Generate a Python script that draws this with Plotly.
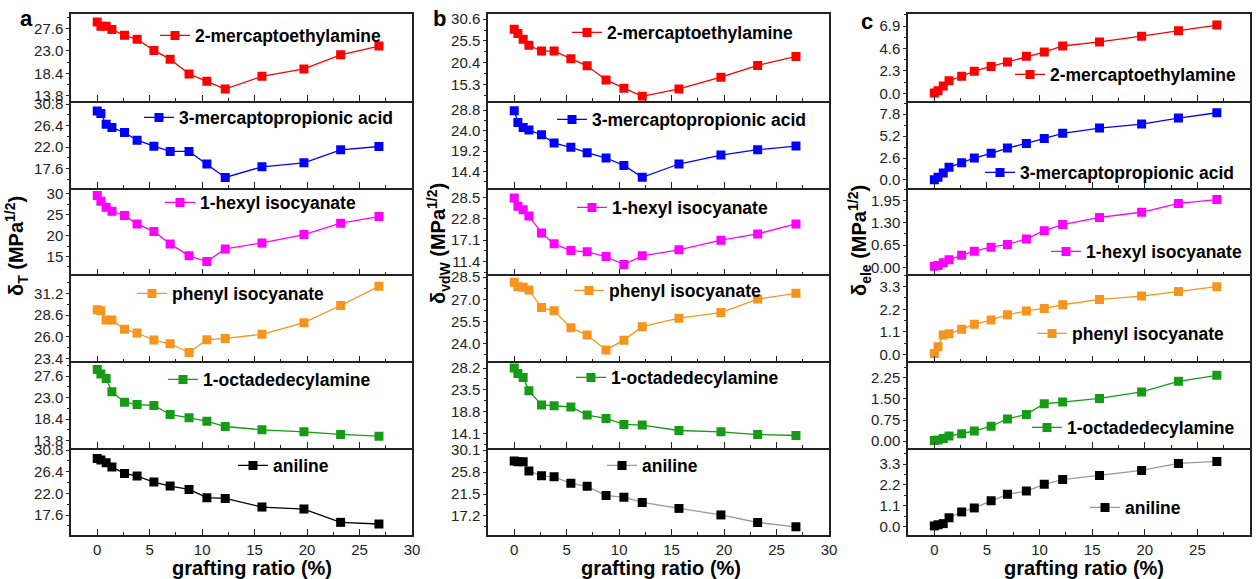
import plotly.graph_objects as go

W, H = 1257, 579

# ---------------- data ----------------
grafting_ratio = [0, 0.35, 0.85, 1.4, 2.6, 3.8, 5.4, 6.95, 8.75, 10.45, 12.2, 15.7, 19.7, 23.2, 26.85]

modifiers = ["2-mercaptoethylamine", "3-mercaptopropionic acid", "1-hexyl isocyanate",
             "phenyl isocyanate", "1-octadedecylamine", "aniline"]

# panel a: delta_T
dT_mercaptoethylamine = [28.98, 28.08, 28.08, 27.4, 26.22, 25.4, 23.12, 21.32, 18.28, 16.77, 15.18, 17.8, 19.32, 22.22, 24.01]
dT_mercaptopropionic = [29.43, 28.88, 26.7, 26.01, 24.99, 23.41, 22.18, 21.09, 21.09, 18.49, 15.75, 17.94, 18.76, 21.43, 22.11]
dT_hexyl_isocyanate = [29.6, 28.24, 26.8, 25.85, 24.81, 22.82, 20.98, 18.03, 15.16, 13.8, 16.83, 18.27, 20.26, 22.98, 24.57]
dT_phenyl_isocyanate = [29.23, 29.11, 28.02, 28.02, 26.9, 26.46, 25.61, 25.17, 24.12, 25.65, 25.81, 26.3, 27.7, 29.75, 32.04]
dT_octadecylamine = [29.03, 28.1, 27.1, 24.24, 22.02, 21.52, 21.31, 19.38, 18.66, 17.95, 16.8, 16.09, 15.66, 15.09, 14.73]
dT_aniline = [29.11, 28.77, 28.23, 27.35, 26.06, 25.52, 24.3, 23.49, 22.81, 21.12, 20.98, 19.22, 18.82, 16.11, 15.77]

# panel b: delta_vdW
dvdW_mercaptoethylamine = [28.25, 27.22, 25.89, 24.48, 23.14, 23.14, 21.34, 19.69, 16.39, 14.43, 12.55, 14.27, 17.02, 19.77, 21.89]
dvdW_mercaptopropionic = [28.64, 25.92, 24.75, 24.13, 23.04, 21.1, 20.09, 18.84, 17.6, 15.88, 13.08, 16.2, 18.3, 19.54, 20.4]
dvdW_hexyl_isocyanate = [28.32, 26.11, 25.22, 23.54, 19.02, 16.1, 14.32, 13.97, 12.73, 10.6, 12.91, 14.5, 17.07, 18.75, 21.41]
dvdW_phenyl_isocyanate = [28.16, 27.86, 27.82, 27.64, 26.45, 26.23, 25.09, 24.59, 23.59, 24.25, 25.16, 25.73, 26.11, 27.02, 27.41]
dvdW_octadecylamine = [28.2, 27.04, 26.18, 23.28, 20.25, 20.1, 19.81, 18.08, 17.35, 16.05, 15.91, 14.75, 14.46, 13.88, 13.67]
dvdW_aniline = [27.97, 27.84, 27.84, 26.04, 25.07, 24.88, 23.59, 23.0, 21.2, 20.88, 19.84, 18.68, 17.39, 15.91, 15.07]

# panel c: delta_ele
dele_mercaptoethylamine = [0.03, 0.28, 0.76, 1.31, 1.76, 2.28, 2.76, 3.21, 3.8, 4.24, 4.86, 5.28, 5.87, 6.42, 7.0]
dele_mercaptopropionic = [0.04, 0.32, 0.83, 1.5, 2.05, 2.6, 3.15, 3.78, 4.33, 4.92, 5.52, 6.15, 6.62, 7.33, 7.96]
dele_hexyl_isocyanate = [0.03, 0.05, 0.13, 0.22, 0.35, 0.47, 0.59, 0.67, 0.83, 1.07, 1.25, 1.46, 1.61, 1.87, 1.98]
dele_phenyl_isocyanate = [0.05, 0.38, 0.95, 1.01, 1.23, 1.47, 1.68, 1.93, 2.12, 2.24, 2.42, 2.68, 2.84, 3.06, 3.3]
dele_octadecylamine = [0.02, 0.04, 0.09, 0.18, 0.26, 0.36, 0.53, 0.79, 0.95, 1.33, 1.39, 1.52, 1.75, 2.13, 2.34]
dele_aniline = [0.03, 0.09, 0.15, 0.46, 0.77, 0.98, 1.36, 1.7, 1.87, 2.23, 2.48, 2.7, 2.96, 3.33, 3.44]

# tick labels (values) per subplot
yticks_T = [[13.8, 18.4, 23.0, 27.6], [17.6, 22.0, 26.4, 30.8], [15, 20, 25, 30],
            [23.4, 26.0, 28.6, 31.2], [13.8, 18.4, 23.0, 27.6], [17.6, 22.0, 26.4, 30.8]]
yticks_vdW = [[15.3, 20.4, 25.5, 30.6], [14.4, 19.2, 24.0, 28.8], [11.4, 17.1, 22.8, 28.5],
              [24.0, 25.5, 27.0, 28.5], [14.1, 18.8, 23.5, 28.2], [17.2, 21.5, 25.8, 30.1]]
yticks_ele = [[0.0, 2.3, 4.6, 6.9], [0.0, 2.6, 5.2, 7.8], [0.00, 0.65, 1.30, 1.95],
              [0.0, 1.1, 2.2, 3.3], [0.00, 0.75, 1.50, 2.25], [0.0, 1.1, 2.2, 3.3]]
xticks = [0, 5, 10, 15, 20, 25, 30]

panel_data = [
    [dT_mercaptoethylamine, dT_mercaptopropionic, dT_hexyl_isocyanate, dT_phenyl_isocyanate, dT_octadecylamine, dT_aniline],
    [dvdW_mercaptoethylamine, dvdW_mercaptopropionic, dvdW_hexyl_isocyanate, dvdW_phenyl_isocyanate, dvdW_octadecylamine, dvdW_aniline],
    [dele_mercaptoethylamine, dele_mercaptopropionic, dele_hexyl_isocyanate, dele_phenyl_isocyanate, dele_octadecylamine, dele_aniline],
]
panel_ticks = [yticks_T, yticks_vdW, yticks_ele]

# ---------------- styles / layout ----------------
y_ranges = [
    [[12.76, 30.6], [13.65, 31.5], [10.7, 31.5], [23.07, 33.46], [12.15, 30.8], [13.54, 31.2]],
    [[11.5, 31.8], [10.67, 30.97], [7.94, 31.08], [22.82, 28.68], [10.95, 29.64], [13.46, 30.5]],
    [[-0.76, 8.14], [-0.91, 9.37], [-0.21, 2.33], [-0.33, 3.89], [-0.25, 2.84], [-0.45, 4.14]],
]
tick_fmt = [[".1f", ".1f", "d", ".1f", ".1f", ".1f"],
            [".1f"] * 6,
            [".1f", ".1f", ".2f", ".1f", ".2f", ".1f"]]
marker_colors = ["#ff0000", "#0000ff", "#ff00ff", "#f7941d", "#169b16", "#000000"]
line_colors = [marker_colors,
               marker_colors[:5] + ["#9a9a9a"],
               marker_colors[:5] + ["#9a9a9a"]]

col_px = [(71, 412), (488, 829), (908, 1250)]
top_px, row_h = 14, 86.83

# legend text start x and centre y (px)
legend_pos = [
    [(198, 35), (182, 117), (203, 202), (175, 293), (206, 379), (276, 465)],
    [(610, 32), (595, 119), (615, 207), (612, 290), (614, 377), (645, 465)],
    [(1053, 74), (1023, 172), (1089, 251), (1075, 333), (1070, 427), (1128, 507)],
]

FONT = "Liberation Sans, Arial, sans-serif"
AXC = "#222"

fig = go.Figure()
layout = dict(
    width=W, height=H,
    margin=dict(l=0, r=0, t=0, b=0, autoexpand=False),
    paper_bgcolor="white", plot_bgcolor="white",
    font=dict(family=FONT, color="black"),
    showlegend=True,
)

k = 0
for c in range(3):
    for r in range(6):
        k += 1
        sfx = "" if k == 1 else str(k)
        x0, x1 = col_px[c]
        yt = top_px + r * row_h
        yb = yt + row_h
        fig.add_trace(go.Scatter(
            x=grafting_ratio, y=panel_data[c][r], name=modifiers[r],
            mode="lines+markers",
            line=dict(color=line_colors[c][r], width=1.3),
            marker=dict(symbol="square", size=9, color=marker_colors[r], line=dict(width=0)),
            xaxis="x" + sfx, yaxis="y" + sfx, legend="legend" + sfx,
        ))
        layout["xaxis" + sfx] = dict(
            domain=[x0 / W, x1 / W], anchor="y" + sfx, range=[-2.5, 30],
            tickvals=xticks, ticks="inside", ticklen=6, tickwidth=1.2, tickcolor=AXC,
            minor=dict(dtick=2.5, tick0=0, ticks="inside", ticklen=3, tickcolor=AXC),
            showticklabels=(r == 5), tickfont=dict(size=15, color="#222"),
            showline=True, linecolor=AXC, linewidth=1.5, mirror=(r == 0),
            showgrid=False, zeroline=False,
        )
        tv = panel_ticks[c][r]
        step = tv[1] - tv[0]
        layout["yaxis" + sfx] = dict(
            domain=[1 - yb / H, 1 - yt / H], anchor="x" + sfx, range=y_ranges[c][r],
            tickvals=tv, tickformat=tick_fmt[c][r],
            ticks="outside", ticklen=3, tickwidth=1.2, tickcolor=AXC,
            minor=dict(dtick=step / 2, tick0=tv[0], ticks="outside", ticklen=2, tickcolor=AXC),
            tickfont=dict(size=15, color="#222"),
            showline=True, linecolor=AXC, linewidth=1.5, mirror=True,
            showgrid=False, zeroline=False,
        )
        tx, ty = legend_pos[c][r]
        layout["legend" + sfx] = dict(
            x=(tx - 43) / W, y=1 - (ty + 0.5) / H, xanchor="left", yanchor="middle",
            bgcolor="rgba(0,0,0,0)", borderwidth=0,
            font=dict(family=FONT, size=17.5, color="black", weight="bold"),
        )

ann = []
for lab, (px, py) in zip(["a", "b", "c"], [(27, 18), (439, 18), (867, 21)]):
    ann.append(dict(text="<b>%s</b>" % lab, x=px / W, y=1 - py / H, xref="paper", yref="paper",
                    xanchor="center", yanchor="middle",
                    showarrow=False, font=dict(size=22, family=FONT, color="black")))
for px in (252, 661, 1084):
    ann.append(dict(text="<b>grafting ratio (%)</b>", x=px / W, y=1 - 568 / H, xref="paper", yref="paper",
                    xanchor="center", yanchor="middle",
                    showarrow=False, font=dict(size=20, family=FONT, color="black")))
ytitles = ["<b>δ<sub>T</sub> (MPa<sup>1/2</sup>)</b>",
           "<b>δ<sub>vdW</sub> (MPa<sup>1/2</sup>)</b>",
           "<b>δ<sub>ele</sub> (MPa<sup>1/2</sup>)</b>"]
for t, (px, py) in zip(ytitles, [(17, 246), (438, 244), (859, 241)]):
    ann.append(dict(text=t, x=px / W, y=1 - py / H, xref="paper", yref="paper", textangle=-90,
                    xanchor="center", yanchor="middle",
                    showarrow=False, font=dict(size=20, family=FONT, color="black")))
layout["annotations"] = ann

fig.update_layout(**layout)
fig.write_html("out.html", config={"displayModeBar": False},
               post_script="document.body.style.margin='0px';document.body.style.overflow='hidden';")
